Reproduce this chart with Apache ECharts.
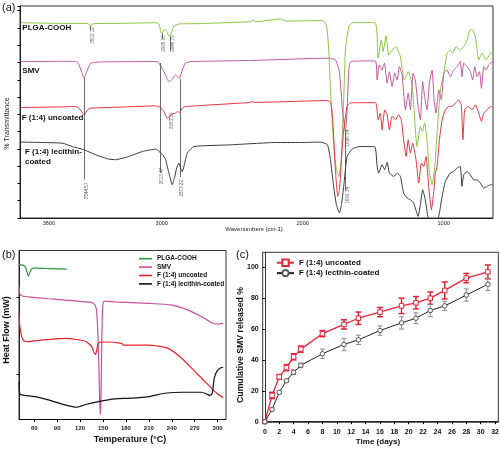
<!DOCTYPE html>
<html><head><meta charset="utf-8">
<script src="https://cdn.jsdelivr.net/npm/echarts@6/dist/echarts.min.js"></script>
<style>html,body{margin:0;padding:0;background:#fff}#c{width:500px;height:450px}</style>
</head><body><div id="c"></div>
<script>
const FF = '"Liberation Sans", Arial, sans-serif';

// ---------- Panel (a): FTIR spectra [wavenumber, %T (offset, a.u.)] ----------
const ftirTicks = [3800, 3000, 2000, 1000];
const plgaIR = [[4000,92.1],[3717,91.8],[3527,91.8],[3504,90.7],[3483,91.7],[3291,91.8],[3043,92.1],[3020,91.5],[3001,87.1],[2977,89.0],[2944,85.5],[2914,90.5],[2878,91.5],[2724,91.7],[2370,92.6],[2354,93.4],[2335,92.6],[2157,93.9],[2121,92.9],[1862,93.1],[1838,92.0],[1826,88.6],[1815,79.3],[1803,60.4],[1782,36.9],[1761,22.7],[1744,19.6],[1729,25.1],[1709,55.7],[1697,79.3],[1673,90.3],[1649,92.0],[1555,92.2],[1484,92.0],[1472,86.3],[1465,75.5],[1442,84.0],[1430,78.5],[1408,85.9],[1390,76.9],[1366,79.3],[1337,80.8],[1307,76.1],[1279,65.1],[1250,69.0],[1222,62.0],[1189,33.7],[1165,43.1],[1151,40.8],[1135,44.9],[1118,36.9],[1101,21.3],[1082,15.7],[1063,24.3],[1047,40.0],[1023,60.4],[999,68.4],[976,77.7],[953,79.3],[936,77.7],[912,80.8],[882,79.3],[858,80.8],[834,84.0],[811,89.0],[794,88.7],[775,85.5],[751,74.6],[727,77.7],[699,74.6],[676,76.9],[653,78.5]];
const smvIR = [[4000,73.8],[3717,73.9],[3610,73.8],[3589,72.7],[3568,68.9],[3551,65.9],[3532,68.9],[3504,73.0],[3433,73.6],[3031,73.8],[3020,73.1],[3004,71.3],[2984,69.0],[2962,65.6],[2949,64.3],[2925,65.4],[2902,67.5],[2888,66.6],[2873,65.9],[2854,69.8],[2831,73.1],[2795,73.8],[2370,74.3],[1815,75.4],[1768,74.6],[1739,68.9],[1718,51.0],[1697,40.8],[1685,51.0],[1673,69.8],[1661,73.6],[1590,74.1],[1484,74.1],[1472,65.1],[1456,72.2],[1437,69.8],[1420,73.0],[1401,63.6],[1385,69.0],[1366,62.0],[1347,68.3],[1330,65.1],[1314,71.4],[1295,67.5],[1271,51.0],[1252,58.9],[1236,51.0],[1217,68.3],[1201,65.1],[1181,52.6],[1165,46.3],[1149,64.3],[1135,57.3],[1118,51.0],[1101,63.6],[1082,69.8],[1068,55.7],[1054,49.5],[1035,60.4],[1016,55.7],[999,68.3],[976,69.8],[953,66.7],[929,69.8],[905,71.4],[882,73.8],[870,66.7],[858,73.0],[834,71.4],[811,69.0],[794,65.1],[780,71.4],[763,66.7],[746,69.0],[732,61.2],[716,71.4],[699,69.8],[681,72.2],[653,73.8]];
const uncoatedIR = [[4000,52.1],[3717,52.4],[3610,52.6],[3582,51.5],[3551,48.7],[3525,51.0],[3504,51.8],[3291,52.3],[3043,52.9],[3008,52.2],[2984,50.1],[2960,47.1],[2944,47.7],[2925,49.1],[2902,49.5],[2888,50.2],[2873,49.8],[2852,52.0],[2831,52.6],[2370,54.5],[2358,55.0],[2342,54.5],[1838,55.4],[1803,54.8],[1789,48.7],[1768,22.8],[1751,10.2],[1739,13.3],[1725,27.5],[1709,41.6],[1685,52.6],[1661,54.3],[1484,54.4],[1465,46.3],[1449,49.5],[1437,41.6],[1418,51.0],[1401,48.7],[1385,41.6],[1366,47.9],[1342,46.3],[1319,48.7],[1300,46.3],[1284,36.9],[1266,29.0],[1252,36.9],[1236,30.6],[1220,35.3],[1196,27.5],[1177,16.5],[1158,25.9],[1142,24.3],[1125,29.0],[1106,14.9],[1087,3.9],[1071,11.8],[1059,21.2],[1047,24.3],[1030,36.9],[1011,46.3],[988,51.0],[964,52.6],[941,52.6],[917,54.2],[894,55.7],[875,53.4],[863,36.9],[851,51.0],[823,52.6],[799,51.0],[775,53.4],[751,49.5],[732,45.5],[716,49.5],[692,51.0],[669,52.6],[653,52.3]];
const coatedIR = [[4000,35.8],[3704,35.3],[3634,33.7],[3551,32.2],[3468,29.8],[3376,27.8],[3327,27.5],[3235,29.0],[3135,31.4],[3043,32.5],[3020,31.7],[3008,30.6],[2991,29.8],[2972,27.5],[2951,21.8],[2925,15.7],[2909,19.0],[2894,23.6],[2878,25.9],[2866,23.6],[2854,21.9],[2841,24.6],[2819,30.6],[2772,33.7],[2512,34.5],[2193,35.6],[2016,35.6],[1874,35.8],[1824,34.5],[1803,27.5],[1782,15.7],[1761,6.3],[1739,2.4],[1725,6.3],[1709,14.9],[1685,29.0],[1649,32.5],[1602,33.7],[1489,33.6],[1472,24.3],[1461,21.2],[1437,25.1],[1418,22.8],[1401,26.2],[1385,21.2],[1354,19.6],[1330,21.2],[1307,19.6],[1284,11.8],[1259,9.4],[1236,8.6],[1213,7.1],[1181,0.8],[1165,6.3],[1149,13.3],[1130,8.6],[1111,0.1],[1094,-4.6],[1066,-5.5],[1044,-1.7],[1030,2.4],[1011,10.2],[988,17.2],[953,21.2],[929,21.9],[905,23.6],[882,24.3],[870,14.9],[858,20.4],[834,21.9],[811,20.4],[787,18.0],[763,18.0],[740,16.5],[716,14.1],[692,14.9],[669,15.7],[653,15.7]];
// peak annotations
const peakLabels = ['3502.12','2995.07','2946.79','3544.57','3013.47','2873.22','2951.39','1696.34','1699.34'];
const peakLabelWn = [3490, 2983, 2925, 3534, 2998, 2855, 2930, 1680, 1680];
const peakLabelT  = [86.1, 82.3, 82.3, 12.8, 19.8, 14.0, 45.9, 37.7, 10.7];
const peakLineWn  = [3504, 2997, 2940, 3551, 3013, 2870, 2949, 1697];
const peakLineTop = [90.7, 87.1, 85.5, 65.9, 73.1, 65.5, 47.1, 40.8];
const peakLineBot = [88.6, 84.5, 79.0, 18.2, 21.3, 19.3, 46.0, 13.0];

// ---------- Panel (b): DSC [temperature °C, heat flow (a.u.)] ----------
const dscTicks = [60, 90, 120, 150, 180, 210, 240, 270, 300];
const plgaDSC = [[40,2.417],[45.2,2.410],[48.5,2.384],[50.5,2.320],[52.2,2.268],[54.0,2.310],[56.4,2.360],[60.9,2.371],[80.6,2.365],[102.4,2.358]];
const smvDSC = [[40,2.13],[40.9,2.044],[43.5,2.013],[52.2,2.0],[78.4,1.975],[100.2,1.957],[126.4,1.935],[135.2,1.928],[139.5,1.893],[141.7,1.806],[143.8,1.375],[145.5,0.70],[146.4,0.47],[147.3,0.70],[148.3,1.375],[149.6,1.871],[151.7,1.944],[165.7,1.935],[209.3,1.915],[239.9,1.893],[261.6,1.828],[279.2,1.741],[292.2,1.664],[300.9,1.647],[307.4,1.656]];
const uncoatedDSC = [[40,1.806],[40.9,1.634],[43.5,1.483],[46.9,1.427],[52.2,1.418],[60.9,1.431],[100.2,1.462],[126.4,1.427],[135.2,1.353],[138.6,1.268],[140.4,1.255],[142.1,1.332],[144.7,1.410],[152.6,1.414],[174.4,1.397],[176.5,1.375],[209.3,1.375],[235.4,1.332],[253.0,1.203],[270.4,1.030],[287.8,0.858],[298.8,0.750],[307.4,0.693]];
const coatedDSC = [[40,0.900],[40.9,0.750],[43.5,0.728],[60.9,0.706],[78.4,0.664],[100.2,0.599],[115.5,0.569],[128.6,0.608],[143.8,0.642],[165.7,0.677],[187.5,0.686],[209.3,0.706],[231.1,0.750],[253.0,0.763],[279.2,0.763],[285.7,0.741],[290.0,0.719],[293.0,0.750],[295.6,0.944],[298.8,1.030],[303.1,1.074],[307.4,1.087]];
const hfTicks = [1, 2];

// ---------- Panel (c): release ----------
const days = [0,1,2,3,4,5,8,11,13,16,19,21,23,25,28,31];
const dayTicks = [0,2,4,6,8,10,12,14,16,18,20,22,24,26,28,30,32];
const releaseTicks = [0,20,40,60,80,100];
const uncoatedRel = [0,17,29,35,42,47,57,63,67,71,75,77,80,85,93,97];
const uncoatedErr = [0,2,1.5,2,2,2,2,3,4,3,5,4,4,5.5,3,4.5];
const coatedRel = [0,8,19,26.5,32,36.5,44,50,53,59,64,67,72,75,82,89];
const coatedErr = [0,1,1,1,1.5,1.5,3,4,3,3,4,3.5,4,3,4,4];
const legendNames = {'rel-u':'F (1:4) uncoated','rel-c':'F (1:4) lecthin-coated'};

const C = {green:'#8cc63f', magenta:'#c4589c', red:'#e8343f', black:'#3a3a3a',
           dGreen:'#2c9a3c', dMag:'#c8509e', dRed:'#e8202c', dBlack:'#111',
           rRed:'#e3263a', rGray:'#8a8a8a'};

function errBar(color, lw, cap){
  return function(params, api){
    const x = api.value(0), y = api.value(1), e = api.value(2);
    if (!e) return {type:'group', children:[]};
    const hi = api.coord([x, y+e]), lo = api.coord([x, y-e]);
    const st = {stroke:color, lineWidth:lw};
    return {type:'group', children:[
      {type:'line', shape:{x1:hi[0],y1:hi[1],x2:lo[0],y2:lo[1]}, style:st},
      {type:'line', shape:{x1:hi[0]-cap,y1:hi[1],x2:hi[0]+cap,y2:hi[1]}, style:st},
      {type:'line', shape:{x1:lo[0]-cap,y1:lo[1],x2:lo[0]+cap,y2:lo[1]}, style:st}
    ]};
  };
}

function irLine(name, data, color){
  return {name:name, type:'line', xAxisIndex:0, yAxisIndex:0, data:data, symbol:'none',
    smooth:0.15, clip:true, lineStyle:{color:color, width:1}, itemStyle:{color:color}, z:2};
}
function dscLine(name, data, color){
  return {name:name, type:'line', xAxisIndex:1, yAxisIndex:1, data:data, symbol:'none',
    smooth:0.2, clip:true, lineStyle:{color:color, width:1.2}, itemStyle:{color:color}, z:2};
}

const markData = peakLineWn.map((w,i)=>[{coord:[w, peakLineTop[i]]},{coord:[w, peakLineBot[i]]}]);
const plgaSeries = irLine('PLGA-COOH IR', plgaIR, C.green);
plgaSeries.markLine = {silent:true, symbol:['none','none'], label:{show:false},
  lineStyle:{color:'#444', width:0.8, type:'solid'}, data:markData, animation:false};

const txt = (o)=>Object.assign({type:'text', silent:true}, o);

const option = {
  animation:false,
  backgroundColor:'#fff',
  textStyle:{fontFamily:FF},
  grid:[
    {left:20, top:6, width:473, height:212, show:true, borderColor:'#000', borderWidth:0.8, outerBoundsMode:'none'},
    {left:19, top:250.5, width:207, height:169, show:true, borderColor:'#000', borderWidth:0.8, outerBoundsMode:'none'},
    {left:262.7, top:252.3, width:235.6, height:170, show:true, borderColor:'#000', borderWidth:0.8, outerBoundsMode:'none'}
  ],
  xAxis:[
    {gridIndex:0, type:'value', min:650, max:4005, inverse:true,
     axisLine:{show:true, lineStyle:{color:'#000', width:0.8}}, axisTick:{show:false}, splitLine:{show:false},
     axisLabel:{customValues:ftirTicks, formatter:(v)=>String(v), fontSize:5.5, margin:2, color:'#222', fontFamily:FF}},
    {gridIndex:1, type:'value', min:40, max:311,
     axisLine:{show:true, lineStyle:{color:'#000', width:0.8}}, splitLine:{show:false},
     axisTick:{show:true, customValues:dscTicks, length:2.5, lineStyle:{color:'#000'}},
     axisLabel:{customValues:dscTicks, fontSize:6, fontWeight:'bold', margin:6, color:'#222', fontFamily:FF}},
    {gridIndex:2, type:'value', min:-0.3, max:32.45,
     axisLine:{show:true, lineStyle:{color:'#000', width:0.8}}, splitLine:{show:false},
     axisTick:{show:true, customValues:dayTicks, length:2.5, lineStyle:{color:'#000'}},
     axisLabel:{customValues:dayTicks, fontSize:7, fontWeight:'bold', margin:6, color:'#111', fontFamily:FF}}
  ],
  yAxis:[
    {gridIndex:0, type:'value', min:0, max:100, interval:8.15,
     axisLine:{show:true, lineStyle:{color:'#000', width:0.8}}, splitLine:{show:false},
     axisTick:{show:true, length:2.5, lineStyle:{color:'#000'}}, axisLabel:{show:false}},
    {gridIndex:1, type:'value', min:0.41, max:2.6,
     axisLine:{show:true, lineStyle:{color:'#000', width:0.8}}, splitLine:{show:false},
     axisTick:{show:true, customValues:hfTicks, length:2.5, lineStyle:{color:'#000'}}, axisLabel:{show:false}},
    {gridIndex:2, type:'value', min:-0.4, max:109.7,
     axisLine:{show:true, lineStyle:{color:'#000', width:0.8}}, splitLine:{show:false},
     axisTick:{show:true, customValues:releaseTicks, length:2.5, lineStyle:{color:'#000'}},
     axisLabel:{customValues:releaseTicks, fontSize:7, fontWeight:'bold', margin:4, color:'#111', fontFamily:FF}}
  ],
  legend:[
    {data:['PLGA-COOH','SMV','F (1:4) uncoated','F (1:4) lecithin-coated'], orient:'vertical',
     left:139, top:255, padding:0, itemWidth:13, itemHeight:1.6, itemGap:1, selectedMode:false,
     icon:'rect',
     textStyle:{fontSize:6.5, lineHeight:7.4, fontWeight:'bold', color:'#111', fontFamily:FF}},
    {data:['rel-u','rel-c'], orient:'vertical', left:276, top:258.5, padding:0, itemWidth:17, itemHeight:8,
     itemGap:2, selectedMode:false, formatter:(n)=>legendNames[n],
     textStyle:{fontSize:8, fontWeight:'bold', color:'#111', fontFamily:FF}}
  ],
  series:[
    plgaSeries,
    irLine('SMV IR', smvIR, C.magenta),
    irLine('uncoated IR', uncoatedIR, C.red),
    irLine('coated IR', coatedIR, C.black),
    {name:'peaks', type:'scatter', xAxisIndex:0, yAxisIndex:0, symbolSize:1,
     itemStyle:{color:'transparent'}, silent:true, z:3,
     data:peakLabelWn.map((w,i)=>[w, peakLabelT[i]]),
     label:{show:true, position:'inside', rotate:90, formatter:(p)=>peakLabels[p.dataIndex],
            fontSize:4.6, color:'#333', fontFamily:FF}},
    dscLine('PLGA-COOH', plgaDSC, C.dGreen),
    dscLine('SMV', smvDSC, C.dMag),
    dscLine('F (1:4) uncoated', uncoatedDSC, C.dRed),
    dscLine('F (1:4) lecithin-coated', coatedDSC, C.dBlack),
    {name:'err-u', type:'custom', xAxisIndex:2, yAxisIndex:2, renderItem:errBar(C.rRed, 1.5, 3),
     data:days.map((d,i)=>[d, uncoatedRel[i], uncoatedErr[i]]), z:2, silent:true},
    {name:'err-c', type:'custom', xAxisIndex:2, yAxisIndex:2, renderItem:errBar(C.rGray, 1, 2.5),
     data:days.map((d,i)=>[d, coatedRel[i], coatedErr[i]]), z:2, silent:true},
    {name:'rel-u', type:'line', xAxisIndex:2, yAxisIndex:2, data:days.map((d,i)=>[d, uncoatedRel[i]]),
     symbol:'rect', symbolSize:4.5, showSymbol:true, lineStyle:{color:C.rRed, width:1.3},
     itemStyle:{color:'#fff', borderColor:C.rRed, borderWidth:1}, z:4},
    {name:'rel-c', type:'line', xAxisIndex:2, yAxisIndex:2, data:days.map((d,i)=>[d, coatedRel[i]]),
     symbol:'circle', symbolSize:4.5, showSymbol:true, lineStyle:{color:'#222', width:1},
     itemStyle:{color:'#fff', borderColor:'#555', borderWidth:1}, z:4}
  ],
  graphic:[
    txt({x:2, y:8, style:{text:'(a)', fontSize:11, fontFamily:FF, fill:'#111', align:'left', verticalAlign:'middle'}}),
    txt({x:2, y:255, style:{text:'(b)', fontSize:11, fontFamily:FF, fill:'#111', align:'left', verticalAlign:'middle'}}),
    txt({x:236, y:255, style:{text:'(c)', fontSize:11, fontFamily:FF, fill:'#111', align:'left', verticalAlign:'middle'}}),
    txt({x:22.3, y:27.5, style:{text:'PLGA-COOH', fontSize:8, fontWeight:'bold', fontFamily:FF, fill:'#111', align:'left', verticalAlign:'middle'}}),
    txt({x:22.3, y:71, style:{text:'SMV', fontSize:8, fontWeight:'bold', fontFamily:FF, fill:'#111', align:'left', verticalAlign:'middle'}}),
    txt({x:21.7, y:117.3, style:{text:'F (1:4) uncoated', fontSize:8, fontWeight:'bold', fontFamily:FF, fill:'#111', align:'left', verticalAlign:'middle'}}),
    txt({x:25, y:157, style:{text:'F (1:4) lecithin-\ncoated', fontSize:8, lineHeight:9.8, fontWeight:'bold', fontFamily:FF, fill:'#111', align:'left', verticalAlign:'middle'}}),
    txt({x:254, y:229, style:{text:'Wavenumbers (cm-1)', fontSize:6, fontFamily:FF, fill:'#222', align:'center', verticalAlign:'middle'}}),
    txt({x:7.5, y:123.5, rotation:Math.PI/2, style:{text:'% Transmittance', fontSize:7, fontFamily:FF, fill:'#222', align:'center', verticalAlign:'middle'}}),
    txt({x:130, y:440, style:{text:'Temperature (°C)', fontSize:9, fontWeight:'bold', fontFamily:FF, fill:'#111', align:'center', verticalAlign:'middle'}}),
    txt({x:7, y:330, rotation:Math.PI/2, style:{text:'Heat Flow (mW)', fontSize:9, fontWeight:'bold', fontFamily:FF, fill:'#111', align:'center', verticalAlign:'middle'}}),
    txt({x:378, y:442, style:{text:'Time (days)', fontSize:8, fontWeight:'bold', fontFamily:FF, fill:'#111', align:'center', verticalAlign:'middle'}}),
    txt({x:241, y:345, rotation:Math.PI/2, style:{text:'Cumulative SMV released %', fontSize:8.7, fontWeight:'bold', fontFamily:FF, fill:'#111', align:'center', verticalAlign:'middle'}})
  ]
};
const chart = echarts.init(document.getElementById('c'), null, {renderer:'canvas'});
chart.setOption(option);
</script>
</body></html>
